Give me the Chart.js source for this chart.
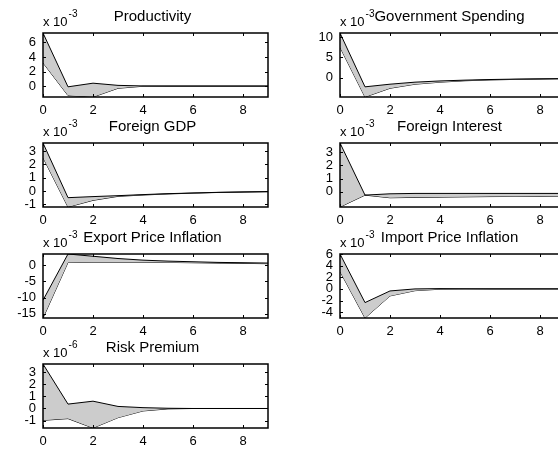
<!DOCTYPE html>
<html>
<head>
<meta charset="utf-8">
<script src="https://cdn.jsdelivr.net/npm/chart.js@4"></script>
<style>
  html, body { margin: 0; padding: 0; background: #fff; overflow: hidden; width: 558px; height: 453px; }
  canvas { position: absolute; }
</style>
</head>
<body>
<script>
// impulse responses, shaded band between upper and lower bound
const periods = [0, 1, 2, 3, 4, 5, 6, 7, 8, 9];
const xTicks = [0, 2, 4, 6, 8];

const prodUpper = [7.3, -0.1, 0.4, 0.1, 0.02, 0, 0, 0, 0, 0];
const prodLower = [3.2, -1.3, -1.5, -0.3, -0.02, 0, 0, 0, 0, 0];
const prodTicks = [0, 2, 4, 6];

const govUpper = [11, -2.25, -1.6, -1.1, -0.8, -0.6, -0.45, -0.35, -0.28, -0.22];
const govLower = [7.5, -4.75, -2.6, -1.6, -1.1, -0.75, -0.55, -0.42, -0.33, -0.26];
const govTicks = [0, 5, 10];

const gdpUpper = [3.6, -0.5, -0.42, -0.35, -0.27, -0.2, -0.15, -0.1, -0.07, -0.05];
const gdpLower = [2.5, -1.2, -0.7, -0.4, -0.3, -0.22, -0.16, -0.11, -0.08, -0.05];
const gdpTicks = [-1, 0, 1, 2, 3];

const fiUpper = [3.7, -0.25, -0.15, -0.12, -0.12, -0.12, -0.12, -0.12, -0.12, -0.12];
const fiLower = [-1.15, -0.25, -0.45, -0.42, -0.4, -0.38, -0.36, -0.35, -0.34, -0.33];
const fiTicks = [0, 1, 2, 3];

const epUpper = [-10.8, 3.5, 2.8, 2.1, 1.6, 1.3, 1.1, 0.9, 0.8, 0.7];
const epLower = [-16.3, 0.9, 1.0, 1.0, 1.0, 0.9, 0.8, 0.7, 0.6, 0.5];
const epTicks = [-15, -10, -5, 0];

const ipUpper = [6, -2.35, -0.35, 0.0, 0.05, 0.02, 0, 0, 0, 0];
const ipLower = [3.0, -5, -1.2, -0.3, -0.05, 0, 0, 0, 0, 0];
const ipTicks = [-4, -2, 0, 2, 4, 6];

const rpUpper = [3.65, 0.36, 0.6, 0.17, 0.07, 0.02, 0, 0, 0, 0];
const rpLower = [-0.97, -0.83, -1.6, -0.75, -0.2, -0.03, 0, 0, 0, 0];
const rpTicks = [-1, 0, 1, 2, 3];

const panels = [
  { title: 'Productivity', exp: '-3', upper: prodUpper, lower: prodLower, yMin: -1.5, yMax: 7.3, yTicks: prodTicks, col: 0, row: 0 },
  { title: 'Government Spending', exp: '-3', upper: govUpper, lower: govLower, yMin: -4.75, yMax: 11, yTicks: govTicks, col: 1, row: 0 },
  { title: 'Foreign GDP', exp: '-3', upper: gdpUpper, lower: gdpLower, yMin: -1.2, yMax: 3.6, yTicks: gdpTicks, col: 0, row: 1 },
  { title: 'Foreign Interest', exp: '-3', upper: fiUpper, lower: fiLower, yMin: -1.15, yMax: 3.7, yTicks: fiTicks, col: 1, row: 1 },
  { title: 'Export Price Inflation', exp: '-3', upper: epUpper, lower: epLower, yMin: -16.3, yMax: 3.5, yTicks: epTicks, col: 0, row: 2 },
  { title: 'Import Price Inflation', exp: '-3', upper: ipUpper, lower: ipLower, yMin: -5, yMax: 6, yTicks: ipTicks, col: 1, row: 2 },
  { title: 'Risk Premium', exp: '-6', upper: rpUpper, lower: rpLower, yMin: -1.6, yMax: 3.65, yTicks: rpTicks, col: 0, row: 3 }
];

const FONT = '"Liberation Sans", Arial, sans-serif';
const colLeft = [0, 297];
const rowTop = [33, 143, 254, 364];
const areaH = 64;

// MATLAB look: box, inward ticks, title and "x 10^n" label
const matlabAxes = {
  id: 'matlabAxes',
  afterDraw(chart, args, opts) {
    const { ctx, chartArea: a, scales: { x, y } } = chart;
    ctx.save();
    ctx.strokeStyle = '#000';
    ctx.lineWidth = 1;
    ctx.beginPath();
    x.ticks.forEach(t => {
      const px = Math.round(x.getPixelForValue(t.value)) + 0.5;
      ctx.moveTo(px, a.bottom); ctx.lineTo(px, a.bottom - 3);
      ctx.moveTo(px, a.top); ctx.lineTo(px, a.top + 3);
    });
    y.ticks.forEach(t => {
      const py = Math.round(y.getPixelForValue(t.value)) + 0.5;
      ctx.moveTo(a.left, py); ctx.lineTo(a.left + 3, py);
      ctx.moveTo(a.right, py); ctx.lineTo(a.right - 3, py);
    });
    ctx.stroke();
    ctx.lineWidth = 1.5;
    ctx.strokeRect(a.left, a.top, a.right - a.left, a.bottom - a.top);

    ctx.fillStyle = '#000';
    ctx.textAlign = 'left';
    ctx.textBaseline = 'alphabetic';
    ctx.font = '13px ' + FONT;
    ctx.fillText('x 10', a.left, a.top - 7);
    const w = ctx.measureText('x 10').width;
    ctx.font = '10px ' + FONT;
    ctx.fillText(opts.exp, a.left + w + 1, a.top - 16);

    // title drawn last, it covers the exponent where they meet
    ctx.font = '15px ' + FONT;
    ctx.textAlign = 'center';
    ctx.fillText(opts.title, (a.left + a.right) / 2 - 3, a.top - 12);
    ctx.restore();
  }
};

panels.forEach(p => {
  const canvas = document.createElement('canvas');
  canvas.width = 280;
  canvas.height = 33 + areaH + 24;
  canvas.style.left = colLeft[p.col] + 'px';
  canvas.style.top = (rowTop[p.row] - 33) + 'px';
  document.body.appendChild(canvas);

  new Chart(canvas.getContext('2d'), {
    type: 'line',
    data: {
      datasets: [{
        data: periods.map((t, i) => ({ x: t, y: p.upper[i] })),
        borderColor: '#000',
        borderWidth: 1,
        backgroundColor: '#cccccc',
        fill: '+1',
        pointRadius: 0,
        tension: 0
      }, {
        data: periods.map((t, i) => ({ x: t, y: p.lower[i] })),
        borderColor: '#000',
        borderWidth: 1,
        fill: false,
        pointRadius: 0,
        tension: 0
      }]
    },
    options: {
      responsive: false,
      animation: false,
      devicePixelRatio: 1,
      layout: { padding: { top: 33, right: 12, left: 0, bottom: 0 } },
      plugins: {
        legend: { display: false },
        tooltip: { enabled: false },
        matlabAxes: { title: p.title, exp: p.exp }
      },
      scales: {
        x: {
          type: 'linear',
          min: 0,
          max: 9,
          afterBuildTicks: s => { s.ticks = xTicks.map(v => ({ value: v })); },
          afterFit: s => { s.height = 24; },
          grid: { display: false, drawTicks: false },
          border: { display: false },
          ticks: { color: '#000', padding: 6, maxRotation: 0, autoSkip: false, font: { family: FONT, size: 13 } }
        },
        y: {
          type: 'linear',
          min: p.yMin,
          max: p.yMax,
          afterBuildTicks: s => { s.ticks = p.yTicks.map(v => ({ value: v })); },
          afterFit: s => { s.width = 43; },
          grid: { display: false, drawTicks: false },
          border: { display: false },
          ticks: { color: '#000', padding: 7, autoSkip: false, font: { family: FONT, size: 13 } }
        }
      }
    },
    plugins: [matlabAxes]
  });
});
</script>
</body>
</html>
